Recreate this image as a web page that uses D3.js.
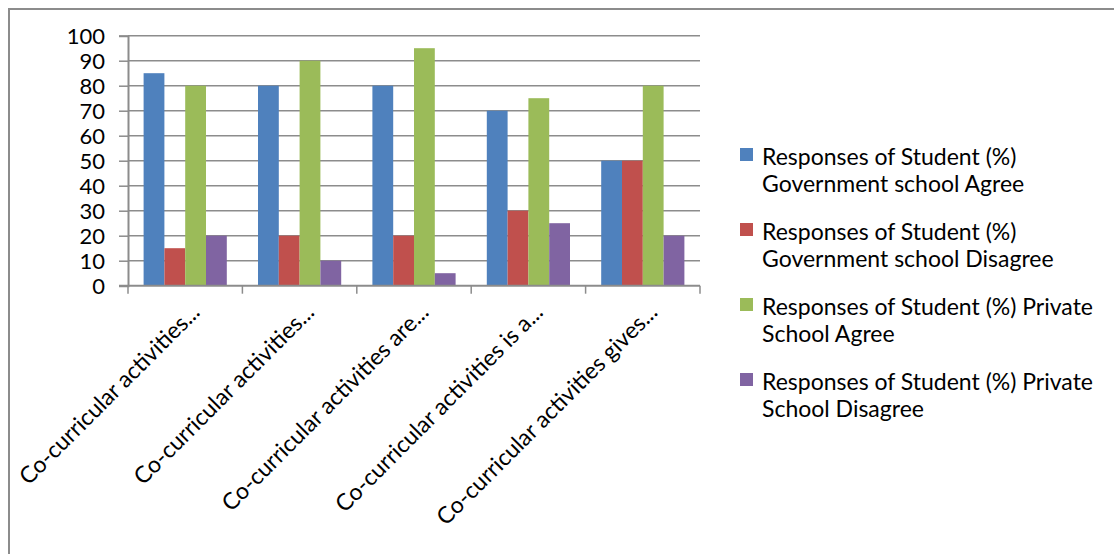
<!DOCTYPE html>
<html>
<head>
<meta charset="utf-8">
<script src="https://cdn.jsdelivr.net/npm/d3@7"></script>
<style>
  html, body { margin: 0; padding: 0; background: #fff; }
  svg { display: block; }
  text { font-family: Lato, "Open Sans", sans-serif; fill: #000; }
</style>
</head>
<body>
<svg id="chart" width="1114" height="554"></svg>
<script>
// ---- data ----
const categories = [
  "Co-curricular activities...",
  "Co-curricular activities...",
  "Co-curricular activities are...",
  "Co-curricular activities is a...",
  "Co-curricular activities gives..."
];
const seriesNames = [
  "Responses of Student (%) Government school Agree",
  "Responses of Student (%) Government school Disagree",
  "Responses of Student (%) Private School Agree",
  "Responses of Student (%) Private School Disagree"
];
const legendLines = [
  ["Responses of Student (%)", "Government school Agree"],
  ["Responses of Student (%)", "Government school Disagree"],
  ["Responses of Student (%) Private", "School Agree"],
  ["Responses of Student (%) Private", "School Disagree"]
];
const govAgree = [85, 80, 80, 70, 50];
const govDisagree = [15, 20, 20, 30, 50];
const privAgree = [80, 90, 95, 75, 80];
const privDisagree = [20, 10, 5, 25, 20];
const yTicks = [0, 10, 20, 30, 40, 50, 60, 70, 80, 90, 100];
const colors = ["#4F81BD", "#C0504D", "#9BBB59", "#8064A2"];

const seriesValues = [govAgree, govDisagree, privAgree, privDisagree];

// ---- layout ----
const svg = d3.select("#chart");
const plot = { left: 128, right: 700, top: 35.7, bottom: 285.7 };

// outer frame (only top and left visible)
svg.append("path")
  .attr("d", `M9,554 L9,9 L1114,9`)
  .attr("fill", "none")
  .attr("stroke", "#8c8c8c")
  .attr("stroke-width", 2);

const x0 = d3.scaleBand()
  .domain(d3.range(categories.length))
  .range([plot.left, plot.right])
  .paddingInner(0)
  .paddingOuter(0);

const y = d3.scaleLinear().domain([0, 100]).range([plot.bottom, plot.top]);

// gridlines
svg.append("g").selectAll("line")
  .data(yTicks.filter(t => t > 0))
  .join("line")
  .attr("x1", plot.left).attr("x2", plot.right)
  .attr("y1", d => y(d)).attr("y2", d => y(d))
  .attr("stroke", "#8c8c8c").attr("stroke-width", 1.5);

// bars
const groupW = x0.bandwidth();
const barW = groupW / (4 + 1.5);
const x1 = d3.scaleBand()
  .domain(d3.range(seriesNames.length))
  .range([barW * 0.75, groupW - barW * 0.75]);

const groups = svg.append("g").selectAll("g")
  .data(categories.map((c, i) => i))
  .join("g")
  .attr("transform", i => `translate(${x0(i)},0)`);

groups.selectAll("rect")
  .data(i => seriesValues.map((s, k) => ({ k, v: s[i] })))
  .join("rect")
  .attr("x", d => x1(d.k))
  .attr("width", x1.bandwidth())
  .attr("y", d => y(d.v))
  .attr("height", d => y(0) - y(d.v))
  .attr("fill", d => colors[d.k]);

// y axis
const yAxis = d3.axisLeft(y).tickValues(yTicks).tickSize(9).tickPadding(14);
const gy = svg.append("g").attr("transform", `translate(${plot.left},0)`).call(yAxis);
gy.select(".domain").attr("stroke", "#8c8c8c").attr("stroke-width", 2);
gy.selectAll(".tick line").attr("stroke", "#8c8c8c").attr("stroke-width", 1.5);
gy.selectAll(".tick text")
  .attr("font-family", "Lato, sans-serif")
  .attr("font-size", 22)
  .attr("dy", "0.36em")
  .attr("fill", "#000");

// x axis
const xEdges = d3.range(categories.length + 1).map(i => plot.left + i * groupW);
svg.append("line")
  .attr("x1", plot.left - 9).attr("x2", plot.right)
  .attr("y1", plot.bottom).attr("y2", plot.bottom)
  .attr("stroke", "#8c8c8c").attr("stroke-width", 2);
svg.append("g").selectAll("line")
  .data(xEdges)
  .join("line")
  .attr("x1", d => d).attr("x2", d => d)
  .attr("y1", plot.bottom).attr("y2", plot.bottom + 8)
  .attr("stroke", "#8c8c8c").attr("stroke-width", 1.5);

// x labels (rotated)
svg.append("g").selectAll("text")
  .data(categories.map((c, i) => ({ c, i })))
  .join("text")
  .attr("transform", d => `translate(${x0(d.i) + groupW / 2 + 16},${plot.bottom + 28}) rotate(-45)`)
  .attr("text-anchor", "end")
  .attr("font-size", 23)
  .text(d => d.c);

// legend
const legend = svg.append("g");
const items = legend.selectAll("g")
  .data(legendLines.map((l, i) => ({ l, i })))
  .join("g")
  .attr("transform", d => `translate(740,${165 + d.i * 75})`);
items.append("rect")
  .attr("x", 0).attr("y", -17).attr("width", 13).attr("height", 13)
  .attr("fill", d => colors[d.i]);
items.append("text")
  .attr("x", 22).attr("y", 0)
  .attr("font-size", 23)
  .selectAll("tspan")
  .data(d => d.l)
  .join("tspan")
  .attr("x", 22)
  .attr("dy", (d, j) => j === 0 ? 0 : 27)
  .text(d => d);
</script>
</body>
</html>
